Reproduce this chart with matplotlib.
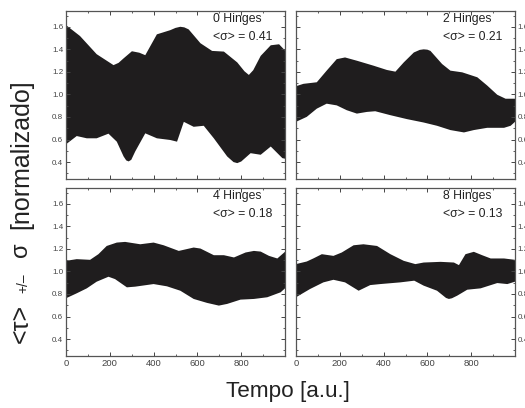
import matplotlib
matplotlib.use("Agg")
import matplotlib.pyplot as plt
from matplotlib.ticker import MultipleLocator

plt.rcParams.update({
    "font.family": ["Liberation Sans", "DejaVu Sans"],
    "axes.edgecolor": "#555555",
    "axes.linewidth": 0.9,
    "xtick.color": "#444444",
    "ytick.color": "#444444",
})

# ── Data ──────────────────────────────────────────────────────────────
labels = ["0 Hinges", "2 Hinges", "4 Hinges", "8 Hinges"]
sigmas = ["0.41", "0.21", "0.18", "0.13"]

t0_up = [0, 64, 140, 217, 240, 263, 301, 335, 362, 415, 476, 500, 522, 540, 560, 614, 667, 721, 782,
         815, 835, 855, 889, 935, 973, 1000]
y0_up = [1.615, 1.518, 1.357, 1.26, 1.28, 1.32, 1.383, 1.37, 1.348, 1.533, 1.57, 1.59, 1.60, 1.595,
         1.577, 1.454, 1.386, 1.38, 1.284, 1.205, 1.173, 1.215, 1.342, 1.436, 1.445, 1.39]
t0_lo = [0, 49, 95, 140, 194, 232, 263, 275, 286, 298, 316, 362, 415, 476, 507, 538, 583, 629, 675,
         736, 765, 782, 800, 843, 889, 935, 988, 1000]
y0_lo = [0.558, 0.631, 0.611, 0.611, 0.652, 0.581, 0.45, 0.415, 0.406, 0.42, 0.494, 0.655, 0.611,
         0.596, 0.581, 0.757, 0.713, 0.722, 0.611, 0.45, 0.40, 0.391, 0.405, 0.479, 0.465, 0.538,
         0.435, 0.43]

t2_up = [0, 34, 95, 140, 186, 224, 278, 354, 415, 454, 492, 538, 565, 583, 600, 614, 667, 705, 759,
         828, 873, 919, 957, 1000]
y2_up = [1.073, 1.094, 1.108, 1.211, 1.313, 1.328, 1.299, 1.255, 1.217, 1.202, 1.284, 1.372, 1.395,
         1.40, 1.397, 1.386, 1.27, 1.211, 1.196, 1.152, 1.079, 0.997, 0.962, 0.962]
t2_lo = [0, 49, 95, 140, 186, 232, 278, 324, 362, 431, 507, 583, 644, 705, 767, 812, 873, 950, 980, 1000]
y2_lo = [0.757, 0.801, 0.874, 0.918, 0.903, 0.86, 0.83, 0.845, 0.851, 0.816, 0.781, 0.751, 0.722,
         0.684, 0.663, 0.684, 0.704, 0.704, 0.722, 0.757]

t4_up = [0, 49, 110, 148, 186, 232, 270, 339, 400, 446, 515, 583, 614, 675, 721, 767, 820, 858, 889,
         927, 965, 1000]
y4_up = [1.094, 1.109, 1.103, 1.153, 1.226, 1.256, 1.262, 1.241, 1.256, 1.232, 1.182, 1.212, 1.203,
         1.144, 1.144, 1.124, 1.168, 1.182, 1.176, 1.138, 1.115, 1.174]
t4_lo = [0, 49, 95, 140, 194, 224, 278, 316, 400, 461, 522, 583, 644, 698, 736, 797, 858, 919, 980, 1000]
y4_lo = [0.762, 0.806, 0.85, 0.909, 0.953, 0.932, 0.859, 0.865, 0.888, 0.868, 0.829, 0.756, 0.721,
         0.697, 0.712, 0.75, 0.756, 0.771, 0.815, 0.85]

t8_up = [0, 49, 79, 118, 171, 209, 263, 308, 370, 431, 492, 545, 583, 660, 721, 744, 774, 812, 850,
         889, 950, 1000]
y8_up = [1.065, 1.088, 1.115, 1.153, 1.138, 1.168, 1.232, 1.241, 1.226, 1.153, 1.094, 1.065, 1.079,
         1.085, 1.079, 1.056, 1.153, 1.174, 1.144, 1.115, 1.115, 1.103]
t8_lo = [0, 64, 125, 171, 224, 286, 339, 385, 476, 540, 583, 644, 685, 698, 712, 736, 782, 843, 919,
         965, 1000]
y8_lo = [0.771, 0.844, 0.903, 0.926, 0.903, 0.829, 0.879, 0.888, 0.903, 0.918, 0.874, 0.829, 0.765,
         0.756, 0.762, 0.785, 0.838, 0.85, 0.897, 0.888, 0.909]

bands = [(t0_up, y0_up, t0_lo, y0_lo), (t2_up, y2_up, t2_lo, y2_lo),
         (t4_up, y4_up, t4_lo, y4_lo), (t8_up, y8_up, t8_lo, y8_lo)]

FILL = "#1f1d1e"
TXT = "#222222"

# ── Layout ────────────────────────────────────────────────────────────
W, H = 525, 408
fig = plt.figure(figsize=(W / 100, H / 100), dpi=100)

# pixel boxes: (left, top, right, bottom)
boxes = [(66, 11, 285, 179), (296, 11, 515, 179), (66, 188, 285, 356), (296, 188, 515, 356)]

for i, (l, t, r, b) in enumerate(boxes):
    ax = fig.add_axes([l / W, 1 - b / H, (r - l) / W, (b - t) / H])
    tu, yu, tl, yl = bands[i]
    # upper and lower boundaries joined into one closed polygon
    xs = list(tu) + list(tl)[::-1]
    ys = list(yu) + list(yl)[::-1]
    ax.fill(xs, ys, color=FILL, lw=0)
    ax.set_xlim(0, 1000)
    ax.set_ylim(0.25, 1.74)
    ax.xaxis.set_major_locator(MultipleLocator(200))
    ax.xaxis.set_minor_locator(MultipleLocator(100))
    ax.yaxis.set_major_locator(MultipleLocator(0.2))
    ax.yaxis.set_minor_locator(MultipleLocator(0.1))
    ax.tick_params(which="both", direction="in", top=True, right=True, pad=2)
    ax.tick_params(axis="x", labelsize=6.8)
    ax.tick_params(axis="y", labelsize=5.8)
    ax.tick_params(which="major", length=3, width=0.7)
    ax.tick_params(which="minor", length=1.6, width=0.6)
    ax.xaxis.set_major_formatter(lambda v, p: f"{v:.0f}" if v < 1000 else "")
    ax.yaxis.set_major_formatter(lambda v, p: f"{v:.1f}")
    if i < 2:
        ax.tick_params(labelbottom=False)
    if i % 2 == 1:
        ax.tick_params(labelleft=False, labelright=True)
    ax.text(0.67, 0.955, labels[i], transform=ax.transAxes, fontsize=8.8,
            ha="left", va="center", color=TXT)
    ax.text(0.67, 0.845, f"<σ> = {sigmas[i]}", transform=ax.transAxes, fontsize=8.8,
            ha="left", va="center", color=TXT)

fig.text(288 / W, 1 - 391 / H, "Tempo [a.u.]", fontsize=16.2, ha="center", va="center", color=TXT)

# y label in pieces (the "+/–" is set smaller)
x_lab = 21 / W
fig.text(x_lab, 1 - 343 / H, "<τ>", rotation=90, fontsize=18, ha="center", va="bottom", color=TXT)
fig.text(x_lab + 2 / W, 1 - 293 / H, "+/–", rotation=90, fontsize=10, ha="center", va="bottom", color=TXT)
fig.text(x_lab, 1 - 257 / H, "σ", rotation=90, fontsize=17, ha="center", va="bottom", color=TXT)
fig.text(x_lab, 1 - 229 / H, "[normalizado]", rotation=90, fontsize=18, ha="center", va="bottom", color=TXT)

fig.savefig("out.png", dpi=100)
